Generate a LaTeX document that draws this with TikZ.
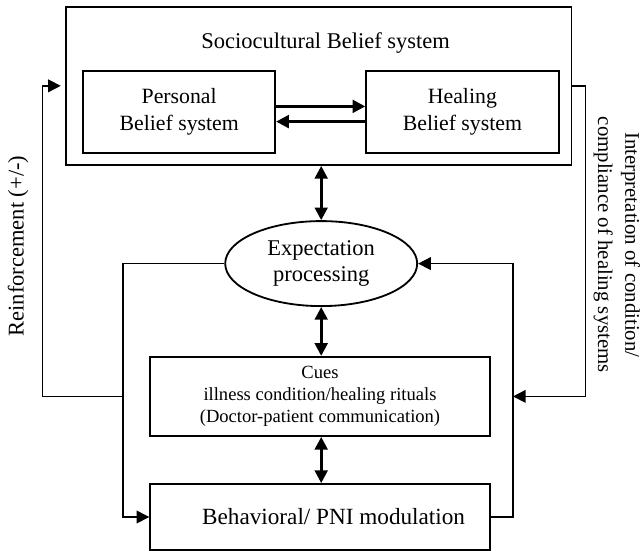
\documentclass[tikz,border=0pt]{standalone}
\usepackage{fontspec}
\setmainfont{Liberation Serif}
\usepackage{tikz}
\usetikzlibrary{arrows.meta}
\usetikzlibrary{shapes.geometric, calc}

\begin{document}
\begin{tikzpicture}[
    box/.style={draw, line width=1.3pt, inner sep=0pt, align=center, font=\fontsize{15.5}{19}\selectfont},
    link/.style={line width=1.1pt},
    bold/.style={line width=2pt},
    fwdarrow/.style={-{Triangle[length=9pt, width=9pt]}},
    dblarrow/.style={{Triangle[length=9pt, width=9pt]}-{Triangle[length=9pt, width=9pt]}}
]

    \useasboundingbox (0,0) rectangle (16.075,-13.775);

				\node[box, minimum width=12.645cm, minimum height=3.958cm] (social) at (7.965,-2.146) {};
				\node[font=\fontsize{16}{19}\selectfont] (socialtitle) at (8.14,-1.07) {Sociocultural Belief system};
				\node[box, minimum width=4.80cm, minimum height=2.04cm] (personal) at (4.48,-2.80) {Personal\\Belief system};
				\node[box, minimum width=4.81cm, minimum height=2.04cm] (healing) at (11.56,-2.80) {Healing\\Belief system};
				
				\node[box, ellipse, minimum width=4.8cm, minimum height=2.125cm, font=\fontsize{16}{19}\selectfont] (expect) at (8.03,-6.59) {Expectation\\processing};
				\node[box, minimum width=8.49cm, minimum height=1.98cm, font=\fontsize{13.2}{15.5}\selectfont] (cues) at (8.0,-9.91) {Cues\\illness condition/healing rituals\\(Doctor-patient communication)};
				\node[box, minimum width=8.49cm, minimum height=1.65cm, font=\fontsize{16.5}{19}\selectfont] (behav) at (8.0,-12.925) {\hspace*{0.68cm}Behavioral/ PNI modulation};
				
				\node[rotate=90, font=\fontsize{16}{19}\selectfont] (reinf) at (0.45,-6.15) {Reinforcement (+/-)};
				\node[rotate=-90, align=center, inner sep=1pt, font=\fontsize{14.8}{19.5}\selectfont] (interp) at (15.42,-6.12) {Interpretation of condition/\\compliance of healing systems};
				
				% columns of the feedback lines
				\coordinate (lout) at (1.06,0);
				\coordinate (lin) at (3.08,0);
				\coordinate (rin) at (12.825,0);
				\coordinate (rout) at (14.64,0);
				
				\draw[bold, fwdarrow] ([yshift=0.14cm]personal.east) -- ([yshift=0.14cm]healing.west);
				\draw[bold, fwdarrow] ([yshift=-0.24cm]healing.west) -- ([yshift=-0.24cm]personal.east);
				
				\draw[bold, dblarrow] (expect.north |- social.south) -- (expect.north);
				\draw[bold, dblarrow] (expect.south) -- (expect.south |- cues.north);
				\draw[bold, dblarrow] (expect.south |- cues.south) -- (expect.south |- behav.north);
				
				\draw[link, fwdarrow] (expect.west) -- (expect.west -| lin) |- (behav.west);
				\draw[link, fwdarrow, shorten >=0.1cm] (cues.west -| lin) -- (cues.west -| lout) |- (social.west);
				\draw[link, fwdarrow] (behav.east) -- (behav.east -| rin) |- (expect.east);
				\draw[link, fwdarrow] (social.east) -- (social.east -| rout) |- (cues.east -| rin);

\end{tikzpicture}
\end{document}
